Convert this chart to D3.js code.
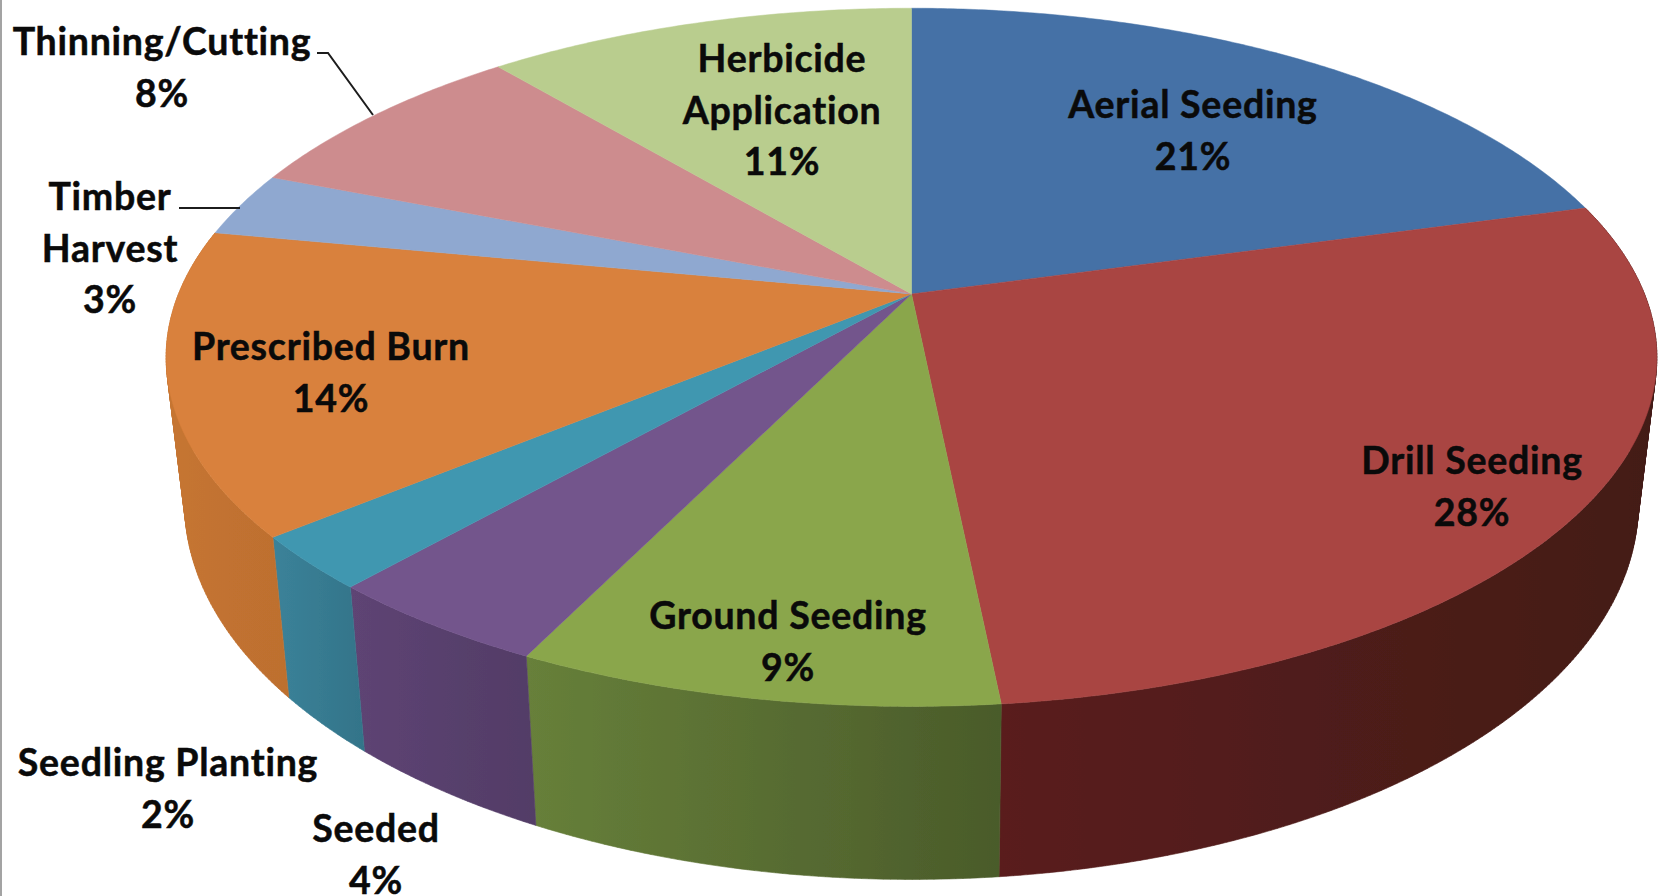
<!DOCTYPE html>
<html><head><meta charset="utf-8">
<script src="https://cdn.jsdelivr.net/npm/d3@7/dist/d3.min.js"></script>
<style>html,body{margin:0;padding:0;background:#fff;overflow:hidden}svg{display:block}</style>
</head><body><svg id="c" width="1658" height="896"></svg>
<script>
// ---- data ----
const categories = ["Aerial Seeding","Drill Seeding","Ground Seeding","Seeded","Seedling Planting","Prescribed Burn","Timber Harvest","Thinning/Cutting","Herbicide Application"];
const shares = [20.7,27.7,8.85,4.25,2.5,14.0,3.0,7.9,11.1];
const percentLabels = ["21%","28%","9%","4%","2%","14%","3%","8%","11%"];
const labelLines = [["Aerial Seeding"],["Drill Seeding"],["Ground Seeding"],["Seeded"],["Seedling Planting"],["Prescribed Burn"],["Timber","Harvest"],["Thinning/Cutting"],["Herbicide","Application"]];
// ---- style / layout ----
const topColors = ["#4471a6","#a94442","#8aa64b","#73548c","#4097b0","#d9813c","#8fa8d0","#cd8c8e","#b9cd8e"];
const wallColors = [null,["#5a1f1e","#431a16"],["#67803a","#4a5b2a"],["#5e4474","#523c66"],["#3b8299","#337489"],["#c67531","#bd6f2f"],null,null,null];
const labelCenters = [[1193,105],[1472,461],[788,616],[376,829],[168,763],[331,347],[110,197],[162,42],[782,59]];
const leaders = [[[317,53],[328,53],[373,115]],[[179,208],[240,208]]];
const lineStep = 51.5, fontSize = 37.5;

const apex = {x:911.5,y:294}, persp = -0.1814;
const xTop = d3.scaleLinear().domain([-1,1]).range([apex.x-733,apex.x+733]);
const yTop = d3.scaleLinear().domain([-1,1]).range([apex.y-337.6,apex.y+337.6]);
const xBot = d3.scaleLinear().domain([-1,1]).range([apex.x-714.7,apex.x+714.7]);
const yBot = d3.scaleLinear().domain([-1,1]).range([436-363,436+363]);
function rim(t,xs,ys){const u=Math.sin(t),v=-Math.cos(t),w=1+persp*v;return [xs(u/w),ys(v/w)];}

const arcs = d3.pie().sort(null).value(d=>d).startAngle(0).endAngle(2*Math.PI)(shares);
const svg = d3.select("#c");
const line = d3.line();
const defs = svg.append("defs");
defs.append("filter").attr("id","soft").append("feGaussianBlur").attr("stdDeviation",0.6);
svg.append("rect").attr("x",0).attr("y",0).attr("width",2).attr("height",896).attr("fill","#a3a3a3");

function samples(a){const n=Math.max(8,Math.ceil((a.endAngle-a.startAngle)*120));return d3.range(n+1).map(i=>a.startAngle+(a.endAngle-a.startAngle)*i/n);}

const pie3d = svg.append("g").attr("filter","url(#soft)");
// side walls (only the slices that face the viewer)
const walls = pie3d.append("g");
arcs.forEach((a,i)=>{
  if(!wallColors[i]) return;
  const ts=samples(a), top=ts.map(t=>rim(t,xTop,yTop)), bot=ts.map(t=>rim(t,xBot,yBot));
  const xs=top.concat(bot).map(p=>p[0]);
  const g=defs.append("linearGradient").attr("id","w"+i).attr("gradientUnits","userSpaceOnUse")
    .attr("x1",d3.min(xs)).attr("x2",d3.max(xs)).attr("y1",0).attr("y2",0);
  g.append("stop").attr("offset",0).attr("stop-color",wallColors[i][0]);
  g.append("stop").attr("offset",1).attr("stop-color",wallColors[i][1]);
  // one small quad per sampled step, all wound the same way so overlaps stay solid
  let d="";
  for(let k=0;k<ts.length-1;k++){
    const q=[top[k],top[k+1],bot[k+1],bot[k]];
    if(d3.polygonArea(q)<0) q.reverse();
    d+=line(q)+"Z";
  }
  walls.append("path").attr("d",d).attr("fill","url(#w"+i+")").attr("stroke","url(#w"+i+")").attr("stroke-width",0.6);
});

// top faces
pie3d.append("g").selectAll("path").data(arcs).join("path")
  .attr("d",a=>line([[apex.x,apex.y]].concat(samples(a).map(t=>rim(t,xTop,yTop))))+"Z")
  .attr("fill",(a,i)=>topColors[i]).attr("stroke",(a,i)=>topColors[i]).attr("stroke-width",0.5);

// leader lines
svg.append("g").selectAll("path").data(leaders).join("path")
  .attr("d",d=>line(d)).attr("fill","none").attr("stroke","#1c1c1c").attr("stroke-width",2);

// labels
const lab = svg.append("g").attr("font-family","Lato, 'Open Sans', sans-serif").attr("font-weight",700)
  .attr("font-size",fontSize).attr("fill","#0a0a0a").attr("stroke","#0a0a0a").attr("stroke-width",0.5)
  .attr("letter-spacing",0.75).attr("text-anchor","middle");
categories.forEach((c,i)=>{
  const lines=labelLines[i].concat([percentLabels[i]]);
  lines.forEach((s,j)=>{
    lab.append("text").attr("x",labelCenters[i][0]).attr("y",labelCenters[i][1]+j*lineStep)
      .attr("dy","0.35em").text(s);
  });
});
</script></body></html>
